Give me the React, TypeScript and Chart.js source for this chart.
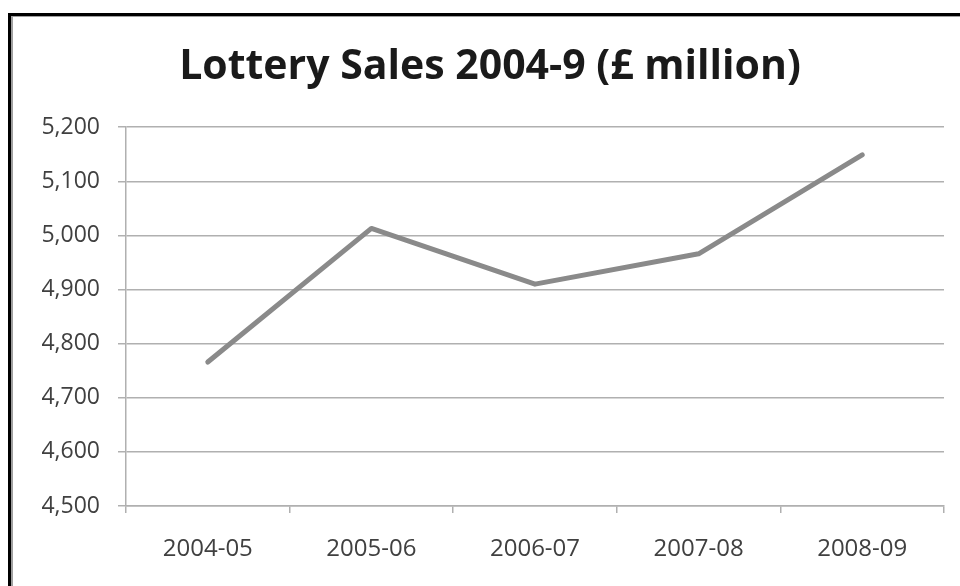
import React, { useEffect, useRef } from "react";
import { Chart, registerables } from "chart.js";

Chart.register(...registerables);

const TITLE = "Lottery Sales 2004-9 (£ million)";
const categories = ["2004-05", "2005-06", "2006-07", "2007-08", "2008-09"];
const sales = [4766, 5013, 4910, 4966, 5149];
const yMin = 4500;
const yMax = 5200;
const yStep = 100;

const FONT = "'Open Sans', 'Noto Sans', sans-serif";

export default function App() {
  const ref = useRef<HTMLCanvasElement | null>(null);

  useEffect(() => {
    if (!ref.current) return;
    const chart = new Chart(ref.current, {
      type: "line",
      data: {
        labels: categories,
        datasets: [
          {
            data: sales,
            borderColor: "#8a8a8a",
            borderWidth: 5,
            pointRadius: 0,
            tension: 0,
            borderCapStyle: "round",
            borderJoinStyle: "round",
            fill: false,
          },
        ],
      },
      options: {
        animation: false,
        responsive: false,
        maintainAspectRatio: false,
        layout: { padding: { left: 36, right: 16, top: 0, bottom: 0 } },
        plugins: {
          legend: { display: false },
          tooltip: { enabled: false },
          title: {
            display: true,
            text: TITLE,
            color: "#1a1a1a",
            font: { family: FONT, size: 41, weight: "bold", lineHeight: 1.2 },
            padding: { top: 43, bottom: 35 },
          },
        },
        scales: {
          x: {
            type: "category",
            offset: true,
            grid: {
              offset: true,
              drawOnChartArea: false,
              drawTicks: true,
              tickLength: 7,
              color: "#b0b0b0",
              lineWidth: 1.5,
            },
            border: { display: true, color: "#b0b0b0", width: 1.5 },
            ticks: {
              color: "#404040",
              font: { family: FONT, size: 24 },
              padding: 22,
              maxRotation: 0,
            },
            afterFit: (scale: any) => {
              scale.height = 80;
            },
          },
          y: {
            min: yMin,
            max: yMax,
            grid: {
              color: "#b0b0b0",
              lineWidth: 1.5,
              tickLength: 8,
              drawTicks: true,
            },
            border: { display: true, color: "#b0b0b0", width: 1.5 },
            ticks: {
              stepSize: yStep,
              color: "#404040",
              font: { family: FONT, size: 23 },
              padding: 18,
              callback: (v: any) => Number(v).toLocaleString("en-US"),
            },
            afterFit: (scale: any) => {
              scale.width = 90;
            },
          },
        },
      },
    });
    return () => chart.destroy();
  }, []);

  return (
    <div
      style={{
        position: "fixed",
        left: 0,
        top: 0,
        width: 960,
        height: 586,
        background: "#fff",
        overflow: "hidden",
      }}
    >
      <div
        style={{
          position: "absolute",
          left: 8,
          top: 13,
          width: 1000,
          height: 700,
          borderLeft: "3px solid #000",
          borderTop: "3px solid #000",
        }}
      >
        <div
          style={{
            position: "absolute",
            left: 0,
            top: 0,
            width: 1000,
            height: 700,
            borderLeft: "2px solid #a0a0a0",
            borderTop: "1px solid #a0a0a0",
          }}
        />
      </div>
      <canvas
        ref={ref}
        width={960}
        height={586}
        style={{ position: "absolute", left: 0, top: 0, width: 960, height: 586 }}
      />
    </div>
  );
}
